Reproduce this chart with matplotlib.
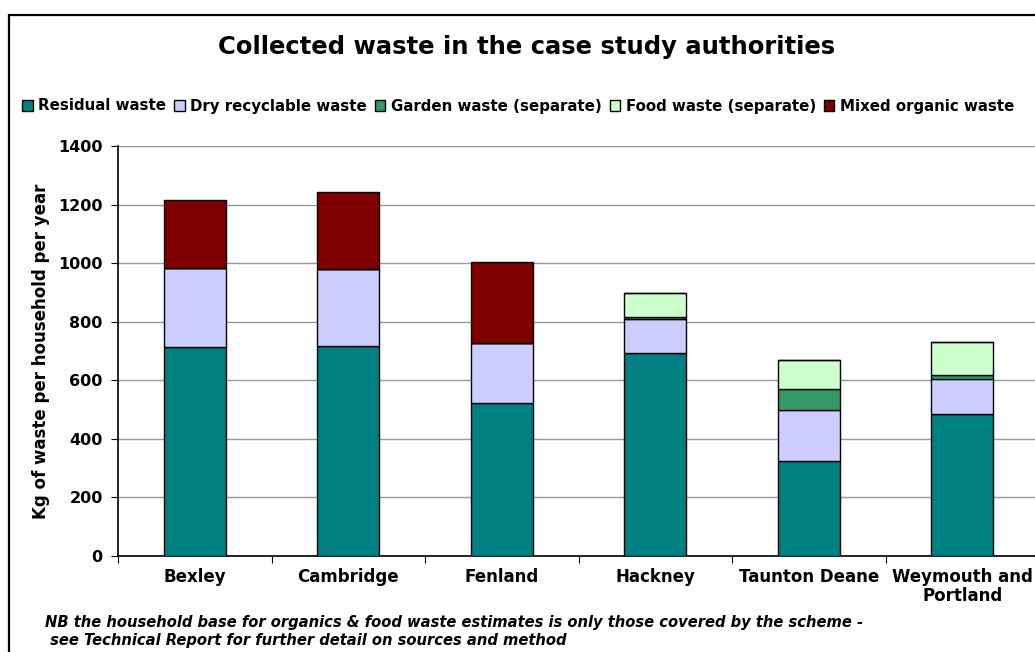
import numpy as np
import matplotlib.pyplot as plt
from matplotlib.patches import Rectangle

# Authorities and collected waste (kg per household per year)
authorities = ['Bexley', 'Cambridge', 'Fenland', 'Hackney', 'Taunton Deane', 'Weymouth and\nPortland']
residual = [715, 718, 524, 692, 325, 485]
dry_recyclable = [269, 261, 202, 117, 172, 118]
garden = [0, 0, 0, 7, 72, 14]
food = [0, 0, 0, 83, 100, 115]
mixed_organic = [230, 263, 277, 0, 0, 0]

series = [
    ('Residual waste', residual, '#008080'),
    ('Dry recyclable waste', dry_recyclable, '#CCCCFF'),
    ('Garden waste (separate)', garden, '#339966'),
    ('Food waste (separate)', food, '#CCFFCC'),
    ('Mixed organic waste', mixed_organic, '#800000'),
]

W, H = 1035, 652
fig = plt.figure(figsize=(W / 100, H / 100), dpi=100)
plt.rcParams['font.family'] = 'DejaVu Sans'

# chart area frame (runs off the right and bottom edges)
fig.patches.append(Rectangle((9 / W, -0.1), 1.2, 1 - 15 / H + 0.1, transform=fig.transFigure,
                             fill=False, edgecolor='black', linewidth=1.6))

ax = fig.add_axes([118 / W, 1 - 556 / H, (1039 - 118) / W, (556 - 146) / H])

x = np.arange(len(authorities))
bottom = np.zeros(len(authorities))
for name, vals, color in series:
    vals = np.array(vals, dtype=float)
    ax.bar(x, vals, width=0.405, bottom=bottom, color=color, edgecolor='black',
           linewidth=1.0, label=name, zorder=3)
    bottom += vals

ax.set_xlim(-0.5, len(authorities) - 0.5)
ax.set_ylim(0, 1400)
ax.set_yticks(range(0, 1401, 200))
ax.yaxis.grid(True, color='#999999', linewidth=1.0, zorder=0)
ax.set_xticks(np.arange(-0.5, len(authorities), 1.0), minor=False)
ax.set_xticklabels([])
ax.set_xticks(x, minor=True)
ax.set_xticklabels(authorities, minor=True, fontsize=12, fontweight='bold', linespacing=1.05)
ax.tick_params(axis='x', which='minor', length=0, pad=9)
ax.tick_params(axis='x', which='major', length=5, direction='out', color='black')
ax.tick_params(axis='y', length=5, direction='out', labelsize=11.5, pad=6)
for lbl in ax.get_yticklabels():
    lbl.set_fontweight('bold')

for side in ['top', 'right']:
    ax.spines[side].set_visible(False)
ax.spines['left'].set_linewidth(1.2)
ax.spines['bottom'].set_linewidth(1.2)

ax.set_ylabel('Kg of waste per household per year', fontsize=12, fontweight='bold', labelpad=6)

fig.text(527 / W, 1 - 47 / H, 'Collected waste in the case study authorities',
         ha='center', va='center', fontsize=17.5, fontweight='bold')

handles, labels = ax.get_legend_handles_labels()
fig.legend(handles, labels, loc='center left', bbox_to_anchor=(22 / W, 1 - 106 / H),
           ncol=5, frameon=False, prop={'weight': 'bold', 'size': 10.8},
           borderpad=0, borderaxespad=0,
           handlelength=0.7, handleheight=0.7, handletextpad=0.4, columnspacing=0.5)

fig.text(45 / W, 1 - 622 / H,
         'NB the household base for organics & food waste estimates is only those covered by the scheme -',
         fontsize=10.6, fontweight='bold', style='italic', va='center')
fig.text(45 / W, 1 - 640 / H,
         ' see Technical Report for further detail on sources and method',
         fontsize=10.6, fontweight='bold', style='italic', va='center')

fig.savefig('out.png', dpi=100)
